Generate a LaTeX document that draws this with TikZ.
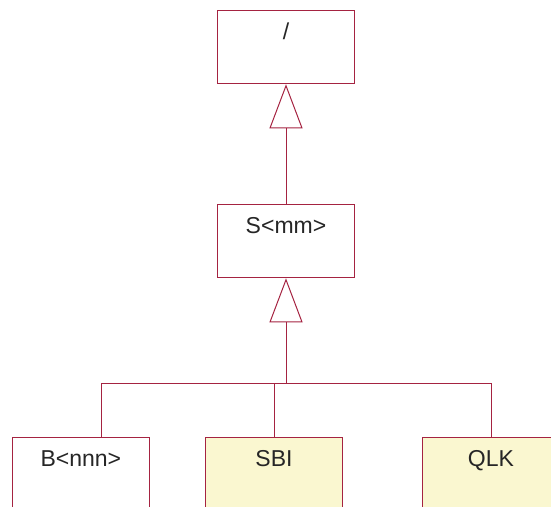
\documentclass[tikz,border=0pt]{standalone}
\usepackage{fontspec}
\setmainfont{Liberation Sans}
\usetikzlibrary{arrows.meta}

\definecolor{umlred}{RGB}{165,35,65}
\definecolor{umlfill}{RGB}{250,247,208}

\begin{document}
\begin{tikzpicture}[x=1pt, y=-1pt, line width=1pt,
                    class node/.style={rectangle,draw=umlred,fill=white,anchor=north,
                      minimum width=136.6pt,inner xsep=0pt,inner ysep=0pt,
                      text height=28.7pt,text depth=44.6pt,text=black!85,
                      font=\fontsize{23}{27}\selectfont},
                    leaf node/.style={class node,fill=umlfill},
                    inherit/.style={draw=umlred,-{Triangle[open,width=33pt,length=44pt]}}]

  \clip (0,0) rectangle (551,506);

  \node[class node] (top) at (286,10) {/};
  \node[class node] (mid) at (286,204) {S<mm>};
  \node[class node] (b) at (80.8,437) {B<nnn>};
  \node[leaf node] (sbi) at (274,437) {SBI};
  \node[leaf node] (qlk) at (491,437) {QLK};

  \coordinate (bus) at (286,383.5);

  \draw[inherit] (mid) -- (top);
  \draw[inherit] (bus) -- (mid);
  \draw[umlred] ([xshift=20.2pt]b.north) |- (bus) -| (qlk.north);
  \draw[umlred] (sbi.north) -- (sbi.north |- bus);
\end{tikzpicture}
\end{document}
